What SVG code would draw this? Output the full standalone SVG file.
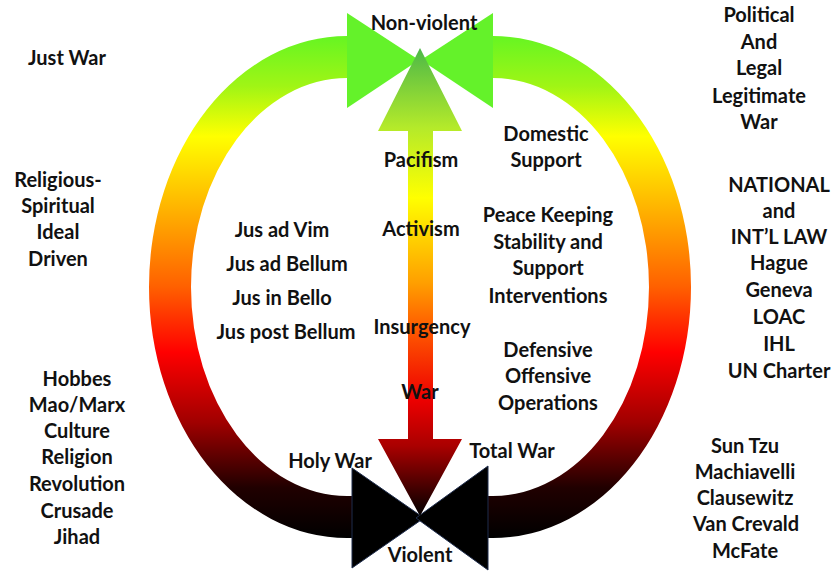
<svg xmlns="http://www.w3.org/2000/svg" width="833" height="573" viewBox="0 0 833 573">
  <style>
    text { font-family: Lato, "Liberation Sans", sans-serif; font-weight: bold; font-size: 20px; fill: #111; text-anchor: middle; }
  </style>
  <defs>
    <!-- green (peace) at top fading to black (violence) at bottom -->
    <linearGradient id="loopGrad" gradientUnits="userSpaceOnUse" x1="0" y1="36" x2="0" y2="538">
      <stop offset="0" stop-color="#66f522"/>
      <stop offset="0.1" stop-color="#a0f515"/>
      <stop offset="0.2" stop-color="#ffff00"/>
      <stop offset="0.35" stop-color="#ffb000"/>
      <stop offset="0.5" stop-color="#ff6000"/>
      <stop offset="0.63" stop-color="#ff0000"/>
      <stop offset="0.77" stop-color="#a00000"/>
      <stop offset="0.9" stop-color="#200000"/>
      <stop offset="1" stop-color="#000000"/>
    </linearGradient>
    <linearGradient id="axisGrad" gradientUnits="userSpaceOnUse" x1="0" y1="48" x2="0" y2="516">
      <stop offset="0" stop-color="#4cb848"/>
      <stop offset="0.17" stop-color="#b4ea2a"/>
      <stop offset="0.32" stop-color="#ffff00"/>
      <stop offset="0.5" stop-color="#ffa000"/>
      <stop offset="0.6" stop-color="#ff5a00"/>
      <stop offset="0.75" stop-color="#ee0000"/>
      <stop offset="0.85" stop-color="#aa0000"/>
      <stop offset="1" stop-color="#000000"/>
    </linearGradient>
  </defs>

  <!-- connectors: the two curved arcs, the end bowties and the vertical scale arrow -->
  <g id="connectors">
    <path id="arc-left" fill="url(#loopGrad)" d="M347,36 A198,251 0 0 0 347,538 L354,538 L354,496 L347,496 A156,209 0 0 1 347,78 Z"/>
    <path id="arc-right" fill="url(#loopGrad)" d="M493,36 A198,251 0 0 1 493,538 L486,538 L486,496 L493,496 A156,209 0 0 0 493,78 Z"/>
    <g id="bowtie-top" fill="#64f22a">
      <polygon points="347,13 347,108 419,60"/>
      <polygon points="493,13 493,108 421,60"/>
    </g>
    <g id="bowtie-bottom" fill="#000" stroke="#1f2d4d" stroke-width="1">
      <polygon points="352,468 352,568 424,518"/>
      <polygon points="488,466 488,570 416,518"/>
    </g>
    <polygon id="scale-arrow" fill="url(#axisGrad)" points="420,48 462,131 433,131 433,439 462,439 420,516 378,439 408,439 408,131 378,131"/>
  </g>

  <g id="end-nonviolent"><text x="424" y="30">Non-violent</text></g>
  <g id="end-violent"><text x="420" y="562">Violent</text></g>

  <g id="just-war"><text x="67" y="65">Just War</text></g>
  <g id="religious">
    <text x="58" y="187">Religious-</text>
    <text x="58" y="213">Spiritual</text>
    <text x="58" y="239">Ideal</text>
    <text x="58" y="266">Driven</text>
  </g>
  <g id="thinkers-left">
    <text x="77" y="386">Hobbes</text>
    <text x="77" y="412">Mao/Marx</text>
    <text x="77" y="438">Culture</text>
    <text x="77" y="464">Religion</text>
    <text x="77" y="491">Revolution</text>
    <text x="77" y="518">Crusade</text>
    <text x="77" y="544">Jihad</text>
  </g>

  <g id="political">
    <text x="759" y="22">Political</text>
    <text x="759" y="49">And</text>
    <text x="759" y="75">Legal</text>
    <text x="759" y="103">Legitimate</text>
    <text x="759" y="129">War</text>
  </g>
  <g id="law">
    <text x="779" y="192">NATIONAL</text>
    <text x="779" y="218">and</text>
    <text x="779" y="244">INT’L LAW</text>
    <text x="779" y="270">Hague</text>
    <text x="779" y="297">Geneva</text>
    <text x="779" y="324">LOAC</text>
    <text x="779" y="351">IHL</text>
    <text x="779" y="378">UN Charter</text>
  </g>
  <g id="thinkers-right">
    <text x="745" y="453">Sun Tzu</text>
    <text x="745" y="479">Machiavelli</text>
    <text x="745" y="505">Clausewitz</text>
    <text x="746" y="531">Van Crevald</text>
    <text x="745" y="558">McFate</text>
  </g>

  <g id="jus">
    <text x="282" y="237">Jus ad Vim</text>
    <text x="287" y="271">Jus ad Bellum</text>
    <text x="282" y="305">Jus in Bello</text>
    <text x="286" y="339">Jus post Bellum</text>
  </g>

  <g id="scale-labels">
    <text x="421" y="167">Pacifism</text>
    <text x="421" y="236">Activism</text>
    <text x="422" y="334">Insurgency</text>
    <text x="420" y="399">War</text>
  </g>

  <g id="domestic">
    <text x="546" y="141">Domestic</text>
    <text x="546" y="167">Support</text>
  </g>
  <g id="peacekeeping">
    <text x="548" y="222">Peace Keeping</text>
    <text x="548" y="249">Stability and</text>
    <text x="548" y="275">Support</text>
    <text x="548" y="303">Interventions</text>
  </g>
  <g id="operations">
    <text x="548" y="357">Defensive</text>
    <text x="548" y="383">Offensive</text>
    <text x="548" y="410">Operations</text>
  </g>
  <g id="holy-war"><text x="330" y="468">Holy War</text></g>
  <g id="total-war"><text x="512" y="458">Total War</text></g>
</svg>
